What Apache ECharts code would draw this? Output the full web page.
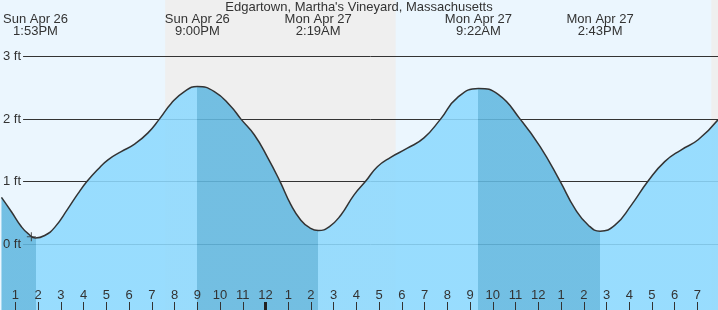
<!DOCTYPE html>
<html><head><meta charset="utf-8">
<script src="https://cdn.jsdelivr.net/npm/echarts@6/dist/echarts.min.js"></script>
<style>html,body{margin:0;padding:0;background:#EBF6FE}#c{width:718px;height:310px}</style>
</head><body><div id="c"></div>
<script>
// ---- data (hours counted from Sun Apr 26 00:00) ----
const titleText = "Edgartown, Martha's Vineyard, Massachusetts";
const tideTimes = [12.385, 12.824, 13.263, 13.557, 13.883, 14.287, 14.727, 15.31, 15.75, 16.16, 16.63, 17.07, 17.65, 18.24, 18.83, 19.33, 19.85, 20.43, 21.0, 21.75, 22.48, 22.92, 23.505, 24.09, 24.63, 25.12, 25.555, 25.92, 26.317, 26.80, 27.31, 27.895, 28.41, 28.92, 29.505, 30.24, 30.97, 31.70, 32.43, 33.367, 34.25, 35.2, 36.08, 36.955, 37.61, 38.20, 38.717, 39.37, 40.10, 40.83, 41.56, 42.29, 43.03, 43.904];
const tideHeights = [0.75, 0.52, 0.28, 0.17, 0.10, 0.14, 0.27, 0.57, 0.81, 1.01, 1.20, 1.35, 1.48, 1.60, 1.78, 2.0, 2.25, 2.44, 2.52, 2.44, 2.2, 2.0, 1.75, 1.39, 1.01, 0.63, 0.385, 0.27, 0.22, 0.28, 0.465, 0.79, 1.01, 1.24, 1.39, 1.535, 1.70, 2.0, 2.34, 2.49, 2.39, 2.0, 1.56, 1.01, 0.57, 0.305, 0.21, 0.305, 0.63, 1.01, 1.32, 1.51, 1.67, 1.99];
const eventTimes = [13.883, 21.0, 26.317, 33.367, 38.717];
const eventDates = ['Sun Apr 26', 'Sun Apr 26', 'Mon Apr 27', 'Mon Apr 27', 'Mon Apr 27'];
const eventClock = ['1:53PM', '9:00PM', '2:19AM', '9:22AM', '2:43PM'];
const eventType = ['low', 'high', 'low', 'high', 'low'];
const hourTicks = [13, 14, 15, 16, 17, 18, 19, 20, 21, 22, 23, 24, 25, 26, 27, 28, 29, 30, 31, 32, 33, 34, 35, 36, 37, 38, 39, 40, 41, 42, 43];
const hourLabels = ['1', '2', '3', '4', '5', '6', '7', '8', '9', '10', '11', '12', '1', '2', '3', '4', '5', '6', '7', '8', '9', '10', '11', '12', '1', '2', '3', '4', '5', '6', '7'];
const midnightTicks = [24];
const heightTicks = [0, 1, 2, 3];
const heightLabels = ['0 ft', '1 ft', '2 ft', '3 ft'];
const nightStart = [19.585, 43.61];
const nightEnd = [29.725, 44.5];
const nowTime = [13.70];
const nowHeight = [0.12];

// ---- layout / style ----
const X_MIN = 12.385, X_MAX = 43.904;
const Y_MIN = -1.05, Y_MAX = 3.903;
const FONT = "'Liberation Sans', Arial, sans-serif";
const TXT = '#333';
const DARK = '#62B8E0', LIGHT = '#8DD9FE';

const bounds = [X_MIN - 5].concat(eventTimes, [X_MAX + 5]);
const pieces = [];
for (let i = 0; i < bounds.length - 1; i++) {
  let endType;
  if (i < eventTimes.length) endType = eventType[i];
  else endType = eventType[eventTimes.length - 1] === 'low' ? 'high' : 'low';
  pieces.push({ gte: bounds[i], lt: bounds[i + 1], color: endType === 'low' ? DARK : LIGHT });
}
const tideData = tideTimes.map((t, i) => [t, tideHeights[i]]);
const nightBands = nightStart.map((s, i) => [{ xAxis: s }, { xAxis: nightEnd[i] }]);
const nearestIdx = (arr, v) => { let b = 0; for (let i = 1; i < arr.length; i++) if (Math.abs(arr[i] - v) < Math.abs(arr[b] - v)) b = i; return b; };

const chart = echarts.init(document.getElementById('c'), null, { renderer: 'canvas' });
chart.setOption({
  animation: false,
  backgroundColor: '#EBF6FE',
  textStyle: { fontFamily: FONT },
  title: {
    text: titleText, left: 'center', top: 1, padding: 0,
    textStyle: { fontSize: 13, fontWeight: 'normal', color: TXT, fontFamily: FONT }
  },
  grid: [
    { left: 0, right: 0, top: 0, bottom: 0 },
    { left: 22, right: 0, top: 0, bottom: 0 }
  ],
  visualMap: { show: false, type: 'piecewise', dimension: 0, seriesIndex: 0, pieces: pieces },
  xAxis: [
    {
      gridIndex: 0, type: 'value', min: X_MIN, max: X_MAX, position: 'bottom', z: 5,
      axisLine: { show: false, onZero: false }, splitLine: { show: false },
      axisTick: { show: true, inside: true, length: 8, customValues: hourTicks, lineStyle: { color: TXT, width: 1 } },
      axisLabel: {
        show: true, inside: true, margin: 8, customValues: hourTicks, color: TXT, fontSize: 13, fontFamily: FONT,
        formatter: v => hourLabels[nearestIdx(hourTicks, v)]
      }
    },
    {
      gridIndex: 0, type: 'value', min: X_MIN, max: X_MAX, position: 'top', z: 5,
      axisLine: { show: false, onZero: false }, splitLine: { show: false }, axisTick: { show: false },
      axisLabel: {
        show: true, inside: true, margin: 13.5, customValues: eventTimes, color: TXT, fontSize: 13, lineHeight: 12, fontFamily: FONT,
        formatter: v => { const i = nearestIdx(eventTimes, v); return eventDates[i] + '\n' + eventClock[i]; }
      }
    },
    {
      gridIndex: 0, type: 'value', min: X_MIN, max: X_MAX, position: 'bottom', z: 6,
      axisLine: { show: false, onZero: false }, splitLine: { show: false }, axisLabel: { show: false },
      axisTick: { show: true, inside: true, length: 8, customValues: midnightTicks, lineStyle: { color: '#222', width: 3 } }
    },
    { gridIndex: 1, type: 'value', min: X_MIN, max: X_MAX, show: false, axisLine: { onZero: false } }
  ],
  yAxis: [
    { gridIndex: 0, type: 'value', min: Y_MIN, max: Y_MAX, show: false, axisLine: { onZero: false } },
    {
      gridIndex: 1, type: 'value', min: Y_MIN, max: Y_MAX, z: 1.5, position: 'left',
      axisLine: { show: false, onZero: false },
      axisTick: { show: false, customValues: heightTicks },
      axisLabel: { show: false },
      splitLine: { show: true, lineStyle: { color: '#333', width: 1 } }
    },
    {
      gridIndex: 1, type: 'value', min: Y_MIN, max: Y_MAX, z: 7, position: 'left', offset: 0,
      axisLine: { show: false, onZero: false },
      axisTick: { show: false, customValues: heightTicks },
      splitLine: { show: false },
      axisLabel: {
        show: true, margin: 2, customValues: heightTicks, color: TXT, fontSize: 13, fontFamily: FONT,
        formatter: v => heightLabels[nearestIdx(heightTicks, v)]
      }
    }
  ],
  series: [
    {
      type: 'line', xAxisIndex: 0, yAxisIndex: 0, data: tideData, smooth: true, symbol: 'none', z: 2,
      lineStyle: { width: 0, opacity: 0 },
      areaStyle: { opacity: 0.88, origin: 'start' },
      markArea: { silent: true, z: 1, itemStyle: { color: '#EFEFEF', borderWidth: 0 }, data: nightBands }
    },
    {
      type: 'line', xAxisIndex: 0, yAxisIndex: 0, data: tideData, smooth: true, symbol: 'none', z: 3,
      lineStyle: { color: '#333', width: 1.5 }
    },
    {
      type: 'scatter', xAxisIndex: 0, yAxisIndex: 0, z: 4,
      data: nowTime.map((t, i) => [t, nowHeight[i]]),
      symbol: 'path://M0,4.4h10v1.2h-10z M4.4,0h1.2v10h-1.2z', symbolSize: 9,
      itemStyle: { color: '#333' }
    }
  ]
});
</script>
</body></html>
